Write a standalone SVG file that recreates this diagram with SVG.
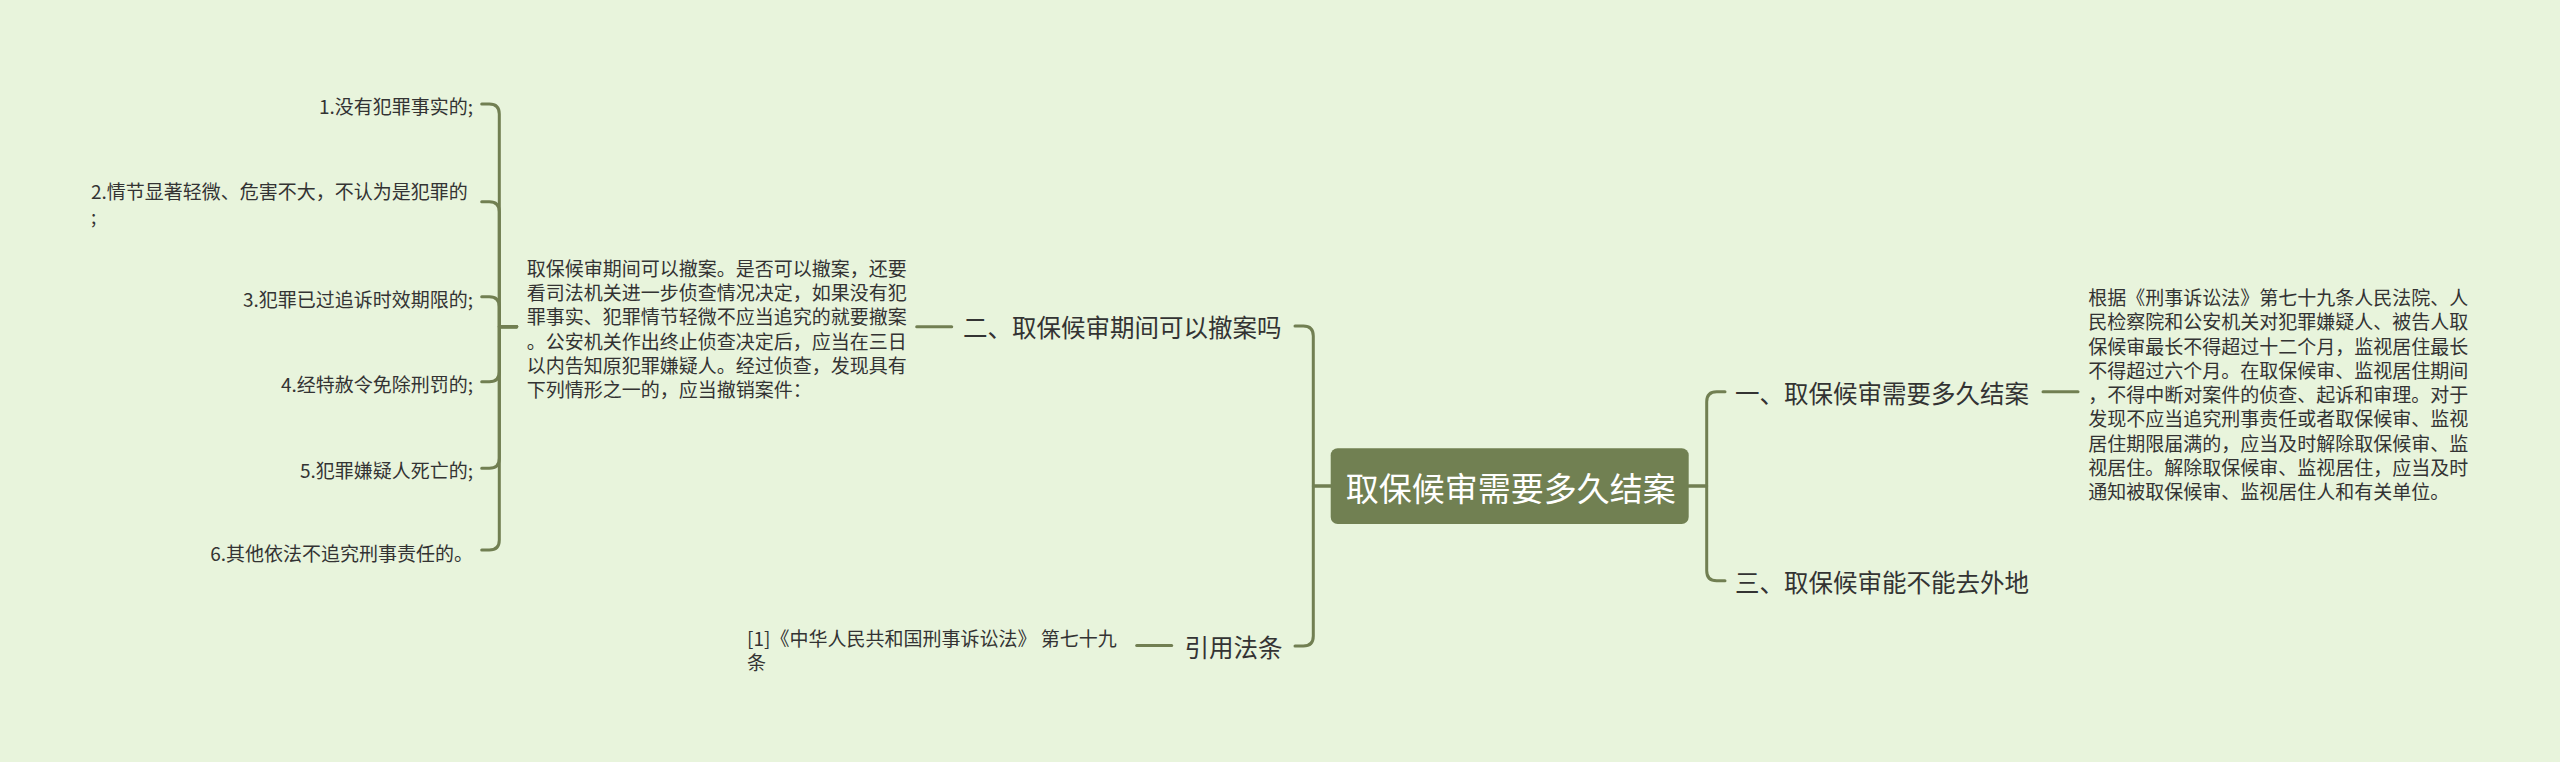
<svg xmlns="http://www.w3.org/2000/svg" width="2560" height="762" viewBox="0 0 2560 762">
<style>
.t{font-family:"Noto Sans CJK SC","Noto Sans",sans-serif;fill:#333333;dominant-baseline:central}
.s{font-size:19px}
.m{font-size:24.5px}
.c{fill:none;stroke:#717f52;stroke-width:3;stroke-linecap:round;stroke-linejoin:round}
</style>
<rect width="2560" height="762" fill="#e8f4dc"/>
<g id="connectors">
<path class="c" d="M1330.7 486 H1313.3 V336 Q1313.3 326 1303.3 326 H1295"/>
<path class="c" d="M1330.7 486 H1313.3 V636 Q1313.3 646 1303.3 646 H1295"/>
<path class="c" d="M1688.7 486 H1706.7 V401.7 Q1706.7 391.7 1716.7 391.7 H1725"/>
<path class="c" d="M1688.7 486 H1706.7 V570.7 Q1706.7 580.7 1716.7 580.7 H1725"/>
<path class="c" d="M916.7 326.7 H951.7"/>
<path class="c" d="M1136.7 645.5 H1171.7"/>
<path class="c" d="M2043 391.7 H2078"/>
<path class="c" d="M516.7 326.7 H499.3 V114 Q499.3 104 489.3 104 H481.7"/>
<path class="c" d="M516.7 326.7 H499.3 V211.7 Q499.3 201.7 489.3 201.7 H481.7"/>
<path class="c" d="M516.7 326.7 H499.3 V306.7 Q499.3 296.7 489.3 296.7 H481.7"/>
<path class="c" d="M516.7 326.7 H499.3 V371.7 Q499.3 381.7 489.3 381.7 H481.7"/>
<path class="c" d="M516.7 326.7 H499.3 V458.3 Q499.3 468.3 489.3 468.3 H481.7"/>
<path class="c" d="M516.7 326.7 H499.3 V540 Q499.3 550 489.3 550 H481.7"/>
</g>
<g id="root">
<rect x="1330.7" y="448.3" width="358" height="75.7" rx="7" fill="#718052"/>
<text x="1510.7" y="486.5" text-anchor="middle" class="t" style="font-size:33px;fill:#ffffff">取保候审需要多久结案</text>
</g>
<g id="n-yi">
<text x="1735" y="392.7" class="t m">一、取保候审需要多久结案</text>
</g>
<g id="n-yi-detail">
<text class="t s">
<tspan x="2088.3" y="296">根据《刑事诉讼法》第七十九条人民法院、人</tspan>
<tspan x="2088.3" y="320.25">民检察院和公安机关对犯罪嫌疑人、被告人取</tspan>
<tspan x="2088.3" y="344.5">保候审最长不得超过十二个月，监视居住最长</tspan>
<tspan x="2088.3" y="368.75">不得超过六个月。在取保候审、监视居住期间</tspan>
<tspan x="2088.3" y="393">，不得中断对案件的侦查、起诉和审理。对于</tspan>
<tspan x="2088.3" y="417.25">发现不应当追究刑事责任或者取保候审、监视</tspan>
<tspan x="2088.3" y="441.5">居住期限届满的，应当及时解除取保候审、监</tspan>
<tspan x="2088.3" y="465.75">视居住。解除取保候审、监视居住，应当及时</tspan>
<tspan x="2088.3" y="490">通知被取保候审、监视居住人和有关单位。</tspan>
</text>
</g>
<g id="n-san">
<text x="1735" y="581.7" class="t m">三、取保候审能不能去外地</text>
</g>
<g id="n-er">
<text x="963" y="326.7" class="t m">二、取保候审期间可以撤案吗</text>
</g>
<g id="n-er-detail">
<text class="t s">
<tspan x="526.7" y="266.7">取保候审期间可以撤案。是否可以撤案，还要</tspan>
<tspan x="526.7" y="291">看司法机关进一步侦查情况决定，如果没有犯</tspan>
<tspan x="526.7" y="315.3">罪事实、犯罪情节轻微不应当追究的就要撤案</tspan>
<tspan x="526.7" y="339.6">。公安机关作出终止侦查决定后，应当在三日</tspan>
<tspan x="526.7" y="363.9">以内告知原犯罪嫌疑人。经过侦查，发现具有</tspan>
<tspan x="526.7" y="388.2">下列情形之一的，应当撤销案件：</tspan>
</text>
</g>
<g id="item1"><text x="473" y="105" text-anchor="end" class="t s">1.没有犯罪事实的;</text></g>
<g id="item2"><text class="t s"><tspan x="91" y="190">2.情节显著轻微、危害不大，不认为是犯罪的</tspan><tspan x="91" y="214.5">;</tspan></text></g>
<g id="item3"><text x="473" y="298.5" text-anchor="end" class="t s">3.犯罪已过追诉时效期限的;</text></g>
<g id="item4"><text x="473" y="383" text-anchor="end" class="t s">4.经特赦令免除刑罚的;</text></g>
<g id="item5"><text x="473" y="469.5" text-anchor="end" class="t s">5.犯罪嫌疑人死亡的;</text></g>
<g id="item6"><text x="473" y="552" text-anchor="end" class="t s">6.其他依法不追究刑事责任的。</text></g>
<g id="n-yinyong">
<text x="1184.5" y="646.7" class="t m">引用法条</text>
</g>
<g id="n-yinyong-detail">
<text class="t s"><tspan x="747" y="636.7">[1]《中华人民共和国刑事诉讼法》 第七十九</tspan><tspan x="747" y="661">条</tspan></text>
</g>
</svg>
